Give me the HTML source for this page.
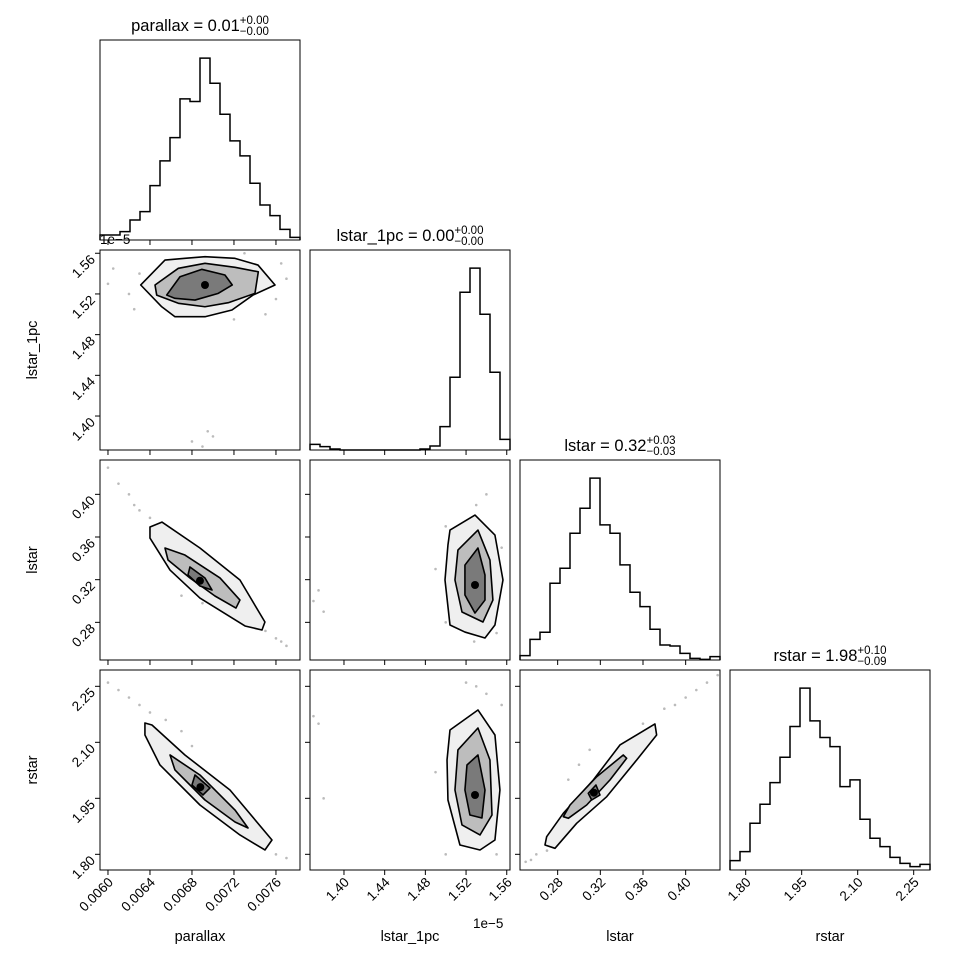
<!DOCTYPE html>
<html><head><meta charset="utf-8"><style>
body{margin:0;background:#fff}
svg text{font-family:"Liberation Sans","DejaVu Sans",sans-serif;fill:#000}
</style></head><body>
<svg id="fig" width="970" height="970" viewBox="0 0 970 970" xmlns="http://www.w3.org/2000/svg"></svg>
<script>
// ---- data ----
const paramNames = ["parallax","lstar_1pc","lstar","rstar"];
const paramRanges = [[0.005924,0.007829],[1.3666,1.5632],[0.2447,0.4322],[1.758,2.2937]];
const tickValues = [[0.0060,0.0064,0.0068,0.0072,0.0076],[1.40,1.44,1.48,1.52,1.56],[0.28,0.32,0.36,0.40],[1.80,1.95,2.10,2.25]];
const tickLabels = [["0.0060","0.0064","0.0068","0.0072","0.0076"],["1.40","1.44","1.48","1.52","1.56"],["0.28","0.32","0.36","0.40"],["1.80","1.95","2.10","2.25"]];
const titleMedians = ["0.01","0.00","0.32","1.98"];
const titlePlus = ["0.00","0.00","0.03","0.10"];
const titleMinus = ["0.00","0.00","0.03","0.09"];
const histParallax = [15,15,25,60,85,163,237,307,423,415,545,470,377,297,252,170,105,73,32,8];
const histLstar1pc = [17,10,3,0,0,0,0,0,0,0,0,3,12,70,218,473,545,407,233,32];
const histLstar = [13,62,83,230,275,380,455,545,405,380,285,203,160,92,45,42,20,5,2,10];
const histRstar = [28,55,140,197,262,338,430,545,447,397,370,250,270,152,95,70,38,20,10,17];
const c10outer=[[0.006312,1.5288],[0.006543,1.5533],[0.006733,1.5550],[0.006924,1.5566],[0.007210,1.5550],[0.007429,1.5484],[0.007591,1.5288],[0.007381,1.5189],[0.007181,1.5042],[0.006924,1.4976],[0.006638,1.4976],[0.006512,1.5074]];
const c10mid=[[0.006448,1.5288],[0.006670,1.5452],[0.006924,1.5501],[0.007210,1.5462],[0.007432,1.5418],[0.007400,1.5206],[0.007146,1.5114],[0.006924,1.5074],[0.006670,1.5108],[0.006464,1.5189]];
const c10in=[[0.006559,1.5189],[0.006686,1.5369],[0.006893,1.5442],[0.007114,1.5386],[0.007184,1.5288],[0.007051,1.5206],[0.006829,1.5140],[0.006638,1.5157]];
const c20outer=[[0.006400,0.3694],[0.006514,0.3740],[0.006876,0.3497],[0.007257,0.3197],[0.007495,0.2803],[0.007467,0.2728],[0.007305,0.2766],[0.006876,0.3028],[0.006591,0.3290],[0.006400,0.3590]];
const c20mid=[[0.006543,0.3497],[0.006733,0.3431],[0.007067,0.3216],[0.007257,0.3009],[0.007219,0.2934],[0.007019,0.3047],[0.006781,0.3216],[0.006572,0.3384]];
const c20in=[[0.006781,0.3319],[0.006924,0.3216],[0.006991,0.3103],[0.006876,0.3141],[0.006762,0.3244]];
const c30outer=[[0.006352,2.1518],[0.006419,2.1464],[0.006733,2.0661],[0.007162,1.9723],[0.007562,1.8384],[0.007495,1.8116],[0.007257,1.8518],[0.006876,1.9321],[0.006495,2.0393],[0.006352,2.1196]];
const c30mid=[[0.006591,2.0661],[0.006876,2.0125],[0.007210,1.9187],[0.007334,1.8705],[0.007210,1.8866],[0.006924,1.9455],[0.006638,2.0259]];
const c30in=[[0.006829,2.0125],[0.006972,1.9777],[0.006905,1.9589],[0.006800,1.9857]];
const c21outer=[[1.5042,0.3665],[1.5288,0.3806],[1.5484,0.3618],[1.5563,0.3197],[1.5484,0.2775],[1.5386,0.2653],[1.5189,0.2709],[1.5042,0.2775],[1.4993,0.3197],[1.5022,0.3525]];
const c21mid=[[1.5120,0.3478],[1.5317,0.3665],[1.5435,0.3384],[1.5464,0.3009],[1.5366,0.2803],[1.5160,0.2897],[1.5091,0.3197]];
const c21in=[[1.5189,0.3337],[1.5317,0.3497],[1.5386,0.3244],[1.5386,0.3009],[1.5288,0.2887],[1.5189,0.3056]];
const c31outer=[[1.5042,2.1330],[1.5317,2.1866],[1.5484,2.1196],[1.5533,1.9723],[1.5484,1.8384],[1.5337,1.8116],[1.5140,1.8250],[1.5022,1.9455],[1.5013,2.0527]];
const c31mid=[[1.5120,2.0795],[1.5317,2.1384],[1.5435,2.0527],[1.5455,1.9053],[1.5337,1.8518],[1.5160,1.8786],[1.5091,1.9723]];
const c31in=[[1.5209,2.0393],[1.5317,2.0661],[1.5386,1.9723],[1.5356,1.8973],[1.5238,1.9053],[1.5189,1.9723]];
const c32outer=[[0.2681,1.8250],[0.2697,1.8472],[0.2853,1.9099],[0.3134,1.9991],[0.3384,2.0929],[0.3712,2.1491],[0.3728,2.1196],[0.3541,2.0527],[0.3260,1.9544],[0.2978,1.8831],[0.2775,1.8161]];
const c32mid=[[0.2853,1.9008],[0.2916,1.9321],[0.3166,2.0079],[0.3415,2.0661],[0.3447,2.0572],[0.3290,1.9991],[0.3072,1.9321],[0.2900,1.8965]];
const c32in=[[0.3087,1.9635],[0.3159,1.9857],[0.3197,1.9589],[0.3119,1.9455]];
const cores=[[0.006924,1.5288],[0.006876,0.3190],[0.006880,1.9800],[1.5288,0.3150],[1.5288,1.9589],[0.3140,1.9650]];
const scatter10=[[0.0060,1.53],[0.00605,1.545],[0.0062,1.52],[0.00625,1.505],[0.0075,1.50],[0.0076,1.515],[0.0077,1.535],[0.00765,1.55],[0.0072,1.495],[0.0069,1.37],[0.00695,1.385],[0.0070,1.38],[0.0068,1.375],[0.0063,1.54],[0.0073,1.56]];
const scatter20=[[0.0060,0.425],[0.0061,0.41],[0.0062,0.40],[0.0063,0.385],[0.0064,0.378],[0.00745,0.275],[0.0075,0.272],[0.0076,0.265],[0.00765,0.262],[0.0067,0.305],[0.0069,0.298],[0.0071,0.29],[0.00625,0.39],[0.0077,0.258]];
const scatter30=[[0.0060,2.26],[0.0061,2.24],[0.0062,2.22],[0.0063,2.20],[0.0064,2.18],[0.0075,1.83],[0.0076,1.80],[0.0077,1.79],[0.0067,2.13],[0.0068,2.09],[0.0073,1.87],[0.00655,2.16]];
const scatter21=[[1.37,0.30],[1.38,0.29],[1.375,0.31],[1.53,0.39],[1.54,0.40],[1.50,0.37],[1.555,0.35],[1.50,0.28],[1.55,0.27],[1.49,0.33],[1.528,0.262]];
const scatter31=[[1.37,2.17],[1.375,2.15],[1.38,1.95],[1.53,2.25],[1.54,2.23],[1.50,1.80],[1.55,1.80],[1.49,2.02],[1.555,2.20],[1.52,2.26]];
const scatter32=[[0.25,1.78],[0.26,1.80],[0.27,1.81],[0.29,2.0],[0.30,2.04],[0.31,2.08],[0.36,2.15],[0.38,2.19],[0.40,2.22],[0.42,2.26],[0.43,2.28],[0.39,2.20],[0.255,1.785],[0.41,2.24]];

const NS="http://www.w3.org/2000/svg";
const svg=document.getElementById('fig');
function mk(tag,attrs,parent){const e=document.createElementNS(NS,tag);for(const k in attrs)e.setAttribute(k,attrs[k]);(parent||svg).appendChild(e);return e;}
const S=200;
function left(c){return 100+210*c;}
function top_(r){return 40+210*r;}
function sx(c,v){const r=paramRanges[c];return left(c)+(v-r[0])/(r[1]-r[0])*S;}
function sy(r,v){const g=paramRanges[r];return top_(r)+S-(v-g[0])/(g[1]-g[0])*S;}

function ticks(r,c,isDiag){
  const xb=top_(r)+S;
  tickValues[c].forEach((v,i)=>{
    const x=sx(c,v);
    const t=mk('line',{x1:x,y1:xb,x2:x,y2:xb+5,stroke:'#000','stroke-width':1});
    
    
    if(r===3){
      const ax=x+6, ay=xb+13;
      const tx=mk('text',{x:ax,y:ay,'font-size':13.5,'text-anchor':'end',transform:`rotate(-45 ${ax} ${ay})`});
      tx.textContent=tickLabels[c][i];
      
      
    }
  });
  if(isDiag)return;
  const xl=left(c);
  tickValues[r].forEach((v,i)=>{
    const y=sy(r,v);
    const t=mk('line',{x1:xl-5,y1:y,x2:xl,y2:y,stroke:'#000','stroke-width':1});
    
    
    if(c===0){
      const ax=xl-4, ay=y+7;
      const tx=mk('text',{x:ax,y:ay,'font-size':13.5,'text-anchor':'end',transform:`rotate(-45 ${ax} ${ay})`});
      tx.textContent=tickLabels[r][i];
      
      
    }
  });
}

function frame(r,c){
  const f=mk('rect',{x:left(c),y:top_(r),width:S,height:S,fill:'none',stroke:'#000','stroke-width':1});
  
  
}

function hist(i,counts){
  const g=mk('g',{});
  
  
  const mx=Math.max(...counts)*1.1, n=counts.length, rg=paramRanges[i];
  const yb=top_(i)+S;
  const hy=v=>yb-v/mx*S;
  let d=`M${sx(i,rg[0])},${yb}`;
  counts.forEach((v,k)=>{
    const x0=sx(i,rg[0]+(rg[1]-rg[0])*k/n), x1=sx(i,rg[0]+(rg[1]-rg[0])*(k+1)/n);
    d+=` L${x0},${hy(v)} L${x1},${hy(v)}`;
  });
  d+=` L${sx(i,rg[1])},${yb}`;
  const p=mk('path',{d:d,fill:'none',stroke:'#000','stroke-width':1.5},g);
  
  
  // title
  const cx=left(i)+S/2, ty=top_(i)-9;
  const t=mk('text',{x:0,y:ty,'font-size':16.5,'text-anchor':'start'});
  
  
  t.textContent=paramNames[i]+' = '+titleMedians[i];
  const sp=mk('text',{x:0,y:ty-7,'font-size':11.5});
  sp.textContent='+'+titlePlus[i];
  
  
  const sb=mk('text',{x:0,y:ty+4,'font-size':11.5});
  sb.textContent='\u2212'+titleMinus[i];
  
  
  const w1=t.getBBox().width, w2=Math.max(sp.getBBox().width,sb.getBBox().width);
  const x0=cx-(w1+w2)/2;
  t.setAttribute('x',x0);
  sp.setAttribute('x',x0+w1);
  sb.setAttribute('x',x0+w1);
}

function poly(r,c,pts,fill,name){
  const p=mk('polygon',{points:pts.map(q=>sx(c,q[0])+','+sy(r,q[1])).join(' '),fill:fill,stroke:'#000','stroke-width':1.6,'stroke-linejoin':'round'});
  
  
}
function pair(r,c,sc,outer,mid,inn,core){
  sc.forEach(q=>{
    const d=mk('circle',{cx:sx(c,q[0]),cy:sy(r,q[1]),r:1.3,fill:'#bbb'});
    
    
  });
  poly(r,c,outer,'#efefef','contour-outer');
  poly(r,c,mid,'#bdbdbd','contour-middle');
  poly(r,c,inn,'#7a7a7a','contour-inner');
  const k=mk('circle',{cx:sx(c,core[0]),cy:sy(r,core[1]),r:4,fill:'#000'});
  
  
}

pair(1,0,scatter10,c10outer,c10mid,c10in,cores[0]);
pair(2,0,scatter20,c20outer,c20mid,c20in,cores[1]);
pair(3,0,scatter30,c30outer,c30mid,c30in,cores[2]);
pair(2,1,scatter21,c21outer,c21mid,c21in,cores[3]);
pair(3,1,scatter31,c31outer,c31mid,c31in,cores[4]);
pair(3,2,scatter32,c32outer,c32mid,c32in,cores[5]);
[histParallax,histLstar1pc,histLstar,histRstar].forEach((h,i)=>hist(i,h));
for(let r=0;r<4;r++)for(let c=0;c<=r;c++){frame(r,c);ticks(r,c,r===c);}

paramNames.forEach((n,c)=>{
  const t=mk('text',{x:left(c)+S/2,y:941,'font-size':14.5,'text-anchor':'middle'});
  t.textContent=n;
  
  
});
[1,2,3].forEach(r=>{
  const y=top_(r)+S/2, x=37;
  const t=mk('text',{x:x,y:y,'font-size':14.5,'text-anchor':'middle',transform:`rotate(-90 ${x} ${y})`});
  t.textContent=paramNames[r];
  
  
});
const o1=mk('text',{x:100,y:244,'font-size':13.5});
o1.textContent='1e\u22125';


const o2=mk('text',{x:473,y:928,'font-size':13.5});
o2.textContent='1e\u22125';


</script>
</body></html>
